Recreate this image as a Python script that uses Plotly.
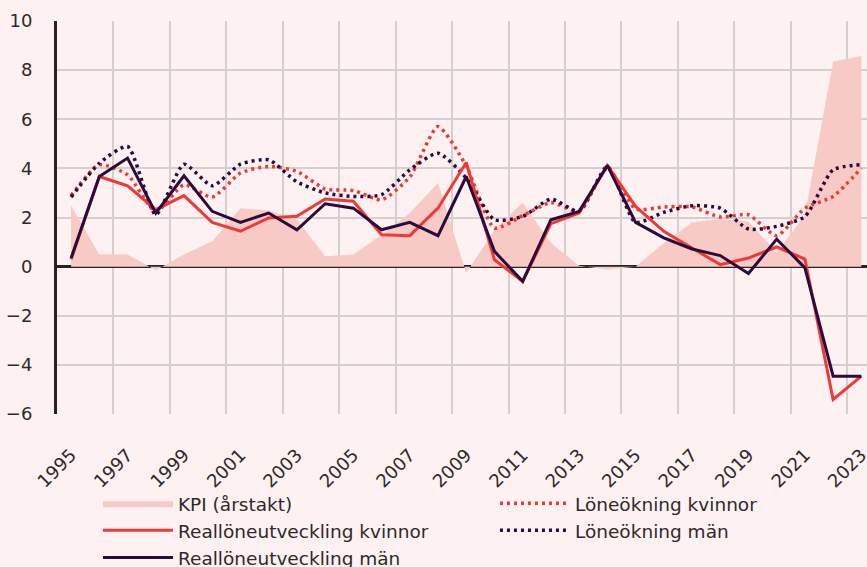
import plotly.graph_objects as go

years = list(range(1995, 2024))

kpi = [2.48, 0.49, 0.49, -0.15, 0.49, 1.03, 2.38, 2.29, 1.93, 0.42, 0.49, 1.30, 2.18, 3.40,
       -0.26, 1.50, 2.61, 0.96, 0.04, -0.12, 0.0, 0.96, 1.80, 1.94, 1.84, 0.58, 2.10, 8.35, 8.58]

real_kvinnor = [0.30, 3.67, 3.29, 2.32, 2.89, 1.80, 1.44, 1.98, 2.05, 2.75, 2.66, 1.30, 1.26, 2.38,
                4.24, 0.28, -0.60, 1.75, 2.18, 4.12, 2.45, 1.44, 0.76, 0.08, 0.35, 0.80, 0.31, -5.41, -4.46]

real_man = [0.35, 3.67, 4.42, 2.18, 3.70, 2.25, 1.80, 2.18, 1.50, 2.56, 2.38, 1.50, 1.80, 1.26,
            3.67, 0.62, -0.60, 1.91, 2.25, 4.12, 1.80, 1.17, 0.72, 0.45, -0.28, 1.12, -0.05, -4.46, -4.46]

lone_kvinnor = [2.89, 4.15, 3.74, 2.25, 3.33, 2.83, 3.81, 4.08, 3.88, 3.16, 3.10, 2.72, 3.65, 5.70,
                4.10, 1.57, 2.07, 2.61, 2.25, 4.01, 2.35, 2.43, 2.43, 2.02, 2.11, 1.26, 2.38, 2.86, 4.01]

lone_man = [2.83, 4.21, 4.89, 2.11, 4.17, 3.29, 4.17, 4.35, 3.45, 3.00, 2.86, 2.93, 3.94, 4.62,
            3.61, 1.91, 2.04, 2.75, 2.25, 4.08, 1.80, 2.21, 2.48, 2.38, 1.53, 1.64, 2.04, 3.94, 4.15]

y_ticks = [-6, -4, -2, 0, 2, 4, 6, 8, 10]

RED = "#ee3a37"
DARK = "#2c0b3c"
FILL = "#f8cac6"
BG = "#fdf1f1"
GRID = "#d4d0d0"
TXT = "#2e2a2a"
FONT = "DejaVu Sans, Noto Sans, sans-serif"
FS = 18
LFS = 18.5

idx = list(range(len(years)))

fig = go.Figure()
fig.add_trace(go.Scatter(x=idx, y=kpi, name="KPI (årstakt)", mode="lines",
                         line=dict(width=0, color=FILL), fill="tozeroy", fillcolor=FILL,
                         legend="legend", legendrank=1, hoverinfo="skip"))
fig.add_trace(go.Scatter(x=idx, y=lone_kvinnor, name="Löneökning kvinnor", mode="lines",
                         line=dict(color=RED, width=3.5, dash="3px,4px", shape="spline", smoothing=0.6),
                         legend="legend2", legendrank=1))
fig.add_trace(go.Scatter(x=idx, y=lone_man, name="Löneökning män", mode="lines",
                         line=dict(color=DARK, width=3.5, dash="3px,4px", shape="spline", smoothing=0.6),
                         legend="legend2", legendrank=2))
fig.add_trace(go.Scatter(x=idx, y=real_kvinnor, name="Reallöneutveckling kvinnor", mode="lines",
                         line=dict(color=RED, width=3), legend="legend", legendrank=2))
fig.add_trace(go.Scatter(x=idx, y=real_man, name="Reallöneutveckling män", mode="lines",
                         line=dict(color=DARK, width=3), legend="legend", legendrank=3))

label_idx = idx[::2]
boundaries = [i - 0.5 for i in range(0, len(years) + 1, 2)]

legend_common = dict(orientation="v", xref="paper", yref="container",
                     xanchor="left", yanchor="top", itemwidth=70,
                     font=dict(family=FONT, size=LFS, color=TXT),
                     bgcolor="rgba(0,0,0,0)", tracegroupgap=0)

fig.update_layout(
    width=867, height=567,
    margin=dict(l=57, r=0, t=21, b=153),
    paper_bgcolor=BG, plot_bgcolor=BG,
    font=dict(family=FONT, size=FS, color=TXT),
    showlegend=True,
    legend=dict(x=0.0506, y=0.145, **legend_common),
    legend2=dict(x=0.5407, y=0.145, **legend_common),
    xaxis=dict(range=[-0.5, 28.2], tickmode="array", tickvals=label_idx,
               ticktext=[str(years[i]) for i in label_idx], tickangle=-45,
               showgrid=False, zeroline=False, showline=False, ticks="",
               ticklabelstandoff=26, ticklabeloverflow="allow", automargin=False,
               tickfont=dict(family=FONT, size=FS, color=TXT),
               minor=dict(tickmode="array", tickvals=boundaries, showgrid=True,
                          gridcolor=GRID, gridwidth=1.5, ticks="")),
    yaxis=dict(range=[-6, 10], tickmode="array", tickvals=y_ticks,
               showgrid=True, gridcolor=GRID, gridwidth=1.5,
               zeroline=True, zerolinecolor="#2a2222", zerolinewidth=2.5,
               showline=True, linecolor="#2a2222", linewidth=3,
               ticks="", ticklabelstandoff=18, automargin=False,
               tickfont=dict(family=FONT, size=FS, color=TXT)),
)

fig.write_html("out.html", config={"displayModeBar": False},
               post_script="document.body.style.margin='0';document.body.style.overflow='hidden';")
